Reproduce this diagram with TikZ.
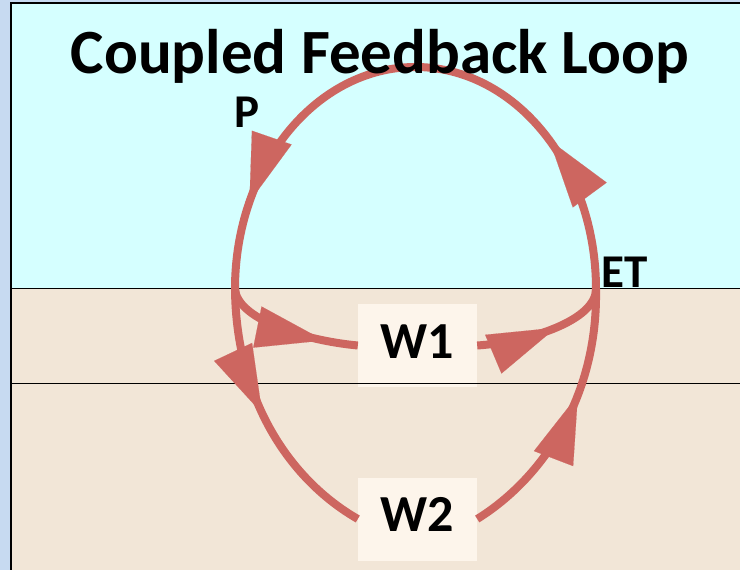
\documentclass[tikz,border=0pt]{standalone}
\usepackage{fontspec}
\setmainfont{Carlito}
\usetikzlibrary{arrows.meta,decorations.markings}
\definecolor{frameblue}{RGB}{199,218,241}
\definecolor{skyband}{RGB}{213,255,255}
\definecolor{soilband}{RGB}{242,230,215}
\definecolor{poolfill}{RGB}{253,245,235}
\definecolor{loopred}{RGB}{205,102,96}
\begin{document}
\begin{tikzpicture}[x=1pt,y=1pt,
  flow/.style={draw=loopred,line width=8pt},
  tipat/.style={postaction={decorate,decoration={markings,mark=at position #1 with {\arrow[loopred]{Triangle[length=68pt,width=42pt,line width=.1pt]}}}}},
  pool/.style={fill=poolfill,inner sep=0pt,minimum width=119pt,minimum height=83pt,text height=40pt,text depth=15pt,font=\fontsize{52}{52}\selectfont\bfseries},
  tag/.style={anchor=base,font=\fontsize{47}{47}\selectfont\bfseries}]
\useasboundingbox (0,0) rectangle (740,-570);
\fill[frameblue] (0,0) rectangle (740,-570);
\fill[skyband] (11,-3) rectangle (740,-288);
\fill[soilband] (11,-288) rectangle (740,-570);
\node[tag] (P) at (247,-127) {P};
\node[tag] (ET) at (625,-287) {ET};
\node[pool] (W1) at (417.5,-345.5) {W1};
\node[pool] (W2) at (417.5,-519) {W2};
\draw (11,-288)--(740,-288) (11,-383)--(740,-383);
\draw[line width=1.5pt] (740,-3)--(11,-3)--(11,-570);
\coordinate (pj) at (235,-289);
\coordinate (etj) at (596,-289);
\path[flow,tipat=.25,tipat=.86] (etj) arc[start angle=0,end angle=180,x radius=180.5,y radius=222];
\path[flow,tipat=.76] (pj) .. controls (237,-318) and (300,-340) .. (W1.west);
\path[flow,tipat=.58] (W1.east) .. controls (530,-342) and (596,-320) .. (etj);
\path[flow,tipat=.47] (pj) .. controls (236,-400) and (290,-480) .. (W2.west);
\path[flow,tipat=.6] (W2.east) .. controls (540,-480) and (598,-400) .. (etj);
\node[anchor=base,font=\fontsize{63}{63}\selectfont\bfseries] (title) at (380,-73) {Coupled Feedback Loop};
\end{tikzpicture}
\end{document}
